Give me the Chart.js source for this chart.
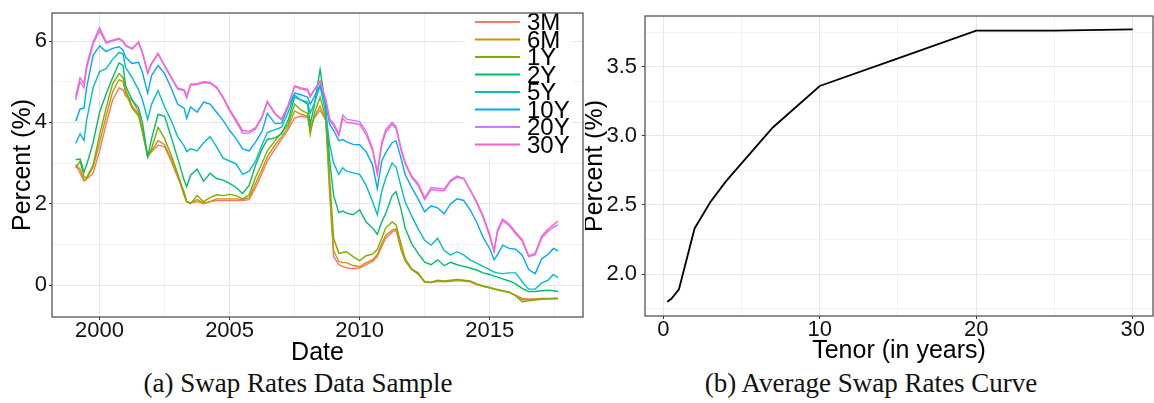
<!DOCTYPE html>
<html>
<head>
<meta charset="utf-8">
<script src="https://cdn.jsdelivr.net/npm/chart.js@4.4.0/dist/chart.umd.min.js"></script>
<style>
  html, body { margin: 0; padding: 0; background: #fff; }
  body { width: 1154px; height: 403px; position: relative; overflow: hidden; }
  canvas { position: absolute; top: 0; }
  #ratesChart { left: 0; }
  #curveChart { left: 585px; }
  .caption {
    position: absolute; top: 370px;
    font-family: "Liberation Serif", "Times New Roman", serif;
    font-size: 27px; line-height: 27px; color: #111;
    text-align: center; white-space: nowrap;
  }
  #capA { left: 0; width: 596px; }
  #capB { left: 590px; width: 562px; }
</style>
</head>
<body>
<canvas id="ratesChart" width="585" height="368"></canvas>
<canvas id="curveChart" width="569" height="368"></canvas>
<div class="caption" id="capA">(a) Swap Rates Data Sample</div>
<div class="caption" id="capB">(b) Average Swap Rates Curve</div>
<script>
// dates as decimal years
const dates = [
  1999.08, 1999.25, 1999.4, 1999.5, 1999.75, 2000.0, 2000.25, 2000.5, 2000.75, 2000.9,
  2001.0, 2001.25, 2001.5, 2001.65, 2001.85, 2002.0, 2002.25, 2002.5, 2002.75, 2003.0,
  2003.25, 2003.35, 2003.5, 2003.75, 2004.0, 2004.25, 2004.5, 2004.75, 2005.0, 2005.25,
  2005.5, 2005.75, 2006.0, 2006.25, 2006.45, 2006.75, 2007.0, 2007.25, 2007.5, 2007.75,
  2008.0, 2008.1, 2008.25, 2008.48, 2008.7, 2008.85, 2009.0, 2009.2, 2009.35, 2009.5,
  2009.75, 2010.0, 2010.25, 2010.5, 2010.68, 2010.85, 2011.0, 2011.25, 2011.4, 2011.6,
  2011.75, 2012.0, 2012.25, 2012.5, 2012.75, 2013.0, 2013.25, 2013.5, 2013.75, 2014.0,
  2014.25, 2014.5, 2014.75, 2015.0, 2015.17, 2015.3, 2015.5, 2015.75, 2016.0, 2016.25,
  2016.5, 2016.75, 2017.0, 2017.25, 2017.45, 2017.63
];

const r3M = [
  2.96, 2.75, 2.56, 2.60, 2.75, 3.30, 3.95, 4.55, 4.85, 4.80,
  4.65, 4.55, 4.25, 3.80, 3.16, 3.28, 3.44, 3.40, 3.05, 2.65,
  2.30, 2.05, 2.02, 2.05, 2.00, 2.05, 2.08, 2.08, 2.08, 2.08,
  2.08, 2.10, 2.40, 2.75, 3.05, 3.35, 3.58, 3.82, 4.11, 4.15,
  4.12, 3.85, 4.10, 4.30, 4.05, 2.20, 0.70, 0.50, 0.46, 0.42,
  0.40, 0.42, 0.50, 0.58, 0.70, 0.95, 1.15, 1.30, 1.35, 0.85,
  0.60, 0.38, 0.27, 0.08, 0.06, 0.09, 0.08, 0.09, 0.11, 0.10,
  0.08, 0.01, -0.03, -0.07, -0.10, -0.12, -0.15, -0.18, -0.25, -0.33,
  -0.34, -0.34, -0.33, -0.33, -0.33, -0.33
];
const r6M = [
  2.95, 2.85, 2.58, 2.62, 2.90, 3.50, 4.15, 4.75, 5.05, 5.00,
  4.72, 4.35, 4.15, 3.75, 3.16, 3.30, 3.55, 3.45, 3.10, 2.70,
  2.20, 2.05, 2.02, 2.10, 2.02, 2.05, 2.12, 2.12, 2.12, 2.12,
  2.10, 2.15, 2.50, 2.85, 3.15, 3.45, 3.65, 3.88, 4.28, 4.20,
  4.15, 3.80, 4.12, 4.40, 4.05, 2.40, 0.85, 0.58, 0.55, 0.55,
  0.48, 0.45, 0.55, 0.62, 0.75, 1.02, 1.22, 1.35, 1.38, 0.88,
  0.60, 0.38, 0.28, 0.07, 0.06, 0.10, 0.09, 0.10, 0.12, 0.11,
  0.09, 0.02, -0.03, -0.07, -0.10, -0.12, -0.15, -0.18, -0.26, -0.36,
  -0.36, -0.35, -0.34, -0.34, -0.33, -0.33
];
const r1Y = [
  2.88, 3.05, 2.66, 2.64, 2.95, 3.70, 4.35, 4.95, 5.20, 5.10,
  4.80, 4.40, 4.20, 3.80, 3.16, 3.36, 3.88, 3.60, 3.20, 2.75,
  2.25, 2.05, 2.00, 2.20, 2.05, 2.15, 2.22, 2.20, 2.23, 2.20,
  2.12, 2.22, 2.65, 3.00, 3.30, 3.55, 3.75, 3.95, 4.45, 4.30,
  4.22, 3.70, 4.20, 4.62, 4.10, 2.60, 1.15, 0.78, 0.80, 0.82,
  0.70, 0.60, 0.72, 0.76, 0.88, 1.15, 1.40, 1.55, 1.48, 1.00,
  0.65, 0.40, 0.30, 0.08, 0.07, 0.12, 0.10, 0.12, 0.14, 0.12,
  0.10, 0.03, -0.02, -0.06, -0.09, -0.11, -0.14, -0.17, -0.27, -0.41,
  -0.39, -0.37, -0.35, -0.34, -0.33, -0.33
];
const r2Y = [
  3.08, 3.10, 2.78, 2.95, 3.50, 4.25, 4.70, 5.10, 5.46, 5.40,
  4.90, 4.55, 4.35, 3.99, 3.16, 3.60, 4.20, 4.15, 3.65, 3.12,
  2.58, 2.42, 2.70, 2.85, 2.55, 2.75, 2.62, 2.58, 2.50, 2.40,
  2.25, 2.45, 2.95, 3.35, 3.58, 3.62, 3.72, 4.05, 4.62, 4.55,
  4.45, 3.95, 4.40, 5.30, 4.35, 3.05, 2.20, 1.78, 1.82, 1.77,
  1.73, 1.85, 1.55, 1.40, 1.25, 1.55, 1.75, 2.20, 2.30, 1.85,
  1.40, 1.02, 0.78, 0.56, 0.50, 0.62, 0.48, 0.56, 0.50, 0.46,
  0.42, 0.37, 0.30, 0.26, 0.22, 0.20, 0.15, 0.10, 0.03, -0.08,
  -0.16, -0.16, -0.14, -0.13, -0.14, -0.16
];
const r5Y = [
  3.48, 3.72, 3.55, 4.05, 4.85, 5.25, 5.32, 5.55, 5.72, 5.68,
  5.35, 5.10, 4.80, 4.55, 4.07, 4.45, 4.78, 4.38, 4.05, 3.65,
  3.42, 3.28, 3.35, 3.30, 3.50, 3.65, 3.40, 3.12, 3.05, 2.98,
  2.72, 2.80, 3.05, 3.45, 3.75, 3.82, 3.88, 4.25, 4.67, 4.55,
  4.50, 4.23, 4.45, 4.90, 4.20, 3.45, 3.00, 2.72, 2.88, 2.80,
  2.76, 2.72, 2.45, 2.05, 1.73, 2.30, 2.62, 3.00, 2.90, 2.40,
  2.05, 1.70, 1.38, 1.10, 0.98, 1.15, 0.85, 0.74, 0.82, 0.74,
  0.62, 0.54, 0.46, 0.38, 0.32, 0.30, 0.28, 0.30, 0.30, 0.08,
  -0.10, -0.10, 0.05, 0.12, 0.26, 0.18
];
const r10Y = [
  4.03, 4.33, 4.35, 4.85, 5.65, 5.88, 5.74, 5.82, 5.86, 5.78,
  5.60, 5.45, 5.48, 5.22, 4.72, 5.15, 5.40, 5.20, 4.85, 4.45,
  4.35, 4.10, 4.38, 4.25, 4.50, 4.45, 4.25, 4.05, 3.80, 3.60,
  3.35, 3.30, 3.52, 3.78, 4.22, 3.97, 3.98, 4.38, 4.72, 4.68,
  4.62, 4.45, 4.62, 4.92, 4.45, 3.95, 3.80, 3.55, 3.58, 3.52,
  3.46, 3.45, 3.28, 2.95, 2.37, 3.05, 3.25, 3.50, 3.55, 3.10,
  2.72, 2.40, 2.12, 1.80, 1.95, 1.90, 1.75, 2.00, 2.12, 2.08,
  1.85, 1.55, 1.17, 0.90, 0.62, 0.74, 0.98, 0.90, 0.88, 0.74,
  0.38, 0.28, 0.64, 0.76, 0.90, 0.84
];
const r20Y = [
  4.55, 5.00, 4.85, 5.32, 5.92, 6.25, 5.95, 6.00, 6.05, 5.98,
  5.88, 5.80, 5.96, 5.70, 5.20, 5.44, 5.68, 5.38, 5.10, 4.82,
  4.78, 4.60, 4.92, 4.93, 4.98, 4.96, 4.85, 4.60, 4.28, 4.02,
  3.74, 3.73, 3.84, 4.12, 4.50, 4.20, 4.06, 4.40, 4.88, 4.82,
  4.78, 4.62, 4.78, 5.00, 4.55, 4.08, 3.98, 3.72, 4.18, 4.08,
  4.05, 4.02, 3.78, 3.36, 2.78, 3.50, 3.82, 4.00, 3.90, 3.35,
  3.02, 2.68, 2.50, 2.15, 2.40, 2.38, 2.36, 2.58, 2.68, 2.62,
  2.33, 2.02, 1.66, 1.20, 0.82, 1.30, 1.58, 1.46, 1.26, 1.08,
  0.70, 0.74, 1.15, 1.32, 1.42, 1.48
];
const r30Y = [
  4.63, 5.10, 4.95, 5.40, 5.98, 6.33, 5.98, 6.02, 6.07, 6.00,
  5.90, 5.82, 5.98, 5.72, 5.22, 5.46, 5.70, 5.40, 5.12, 4.85,
  4.80, 4.63, 4.94, 4.95, 5.00, 4.98, 4.87, 4.62, 4.32, 4.07,
  3.80, 3.78, 3.87, 4.15, 4.52, 4.22, 4.08, 4.42, 4.90, 4.85,
  4.82, 4.65, 4.80, 5.02, 4.55, 4.05, 3.92, 3.67, 4.10, 4.00,
  3.98, 3.95, 3.70, 3.30, 2.72, 3.45, 3.75, 3.95, 3.85, 3.30,
  2.98, 2.65, 2.45, 2.10, 2.35, 2.33, 2.32, 2.55, 2.65, 2.62,
  2.35, 2.05, 1.70, 1.25, 0.84, 1.35, 1.62, 1.50, 1.30, 1.12,
  0.72, 0.78, 1.20, 1.38, 1.48, 1.57
];

const seriesNames = ['3M', '6M', '1Y', '2Y', '5Y', '10Y', '20Y', '30Y'];
const seriesValues = [r3M, r6M, r1Y, r2Y, r5Y, r10Y, r20Y, r30Y];
const seriesColors = ['#F8766D', '#CD9600', '#7CAE00', '#00BE67', '#00BFC4', '#00A9FF', '#C77CFF', '#FF61CC'];

const dateTicks = [2000, 2005, 2010, 2015];
const dateGrid = [2000, 2002.5, 2005, 2007.5, 2010, 2012.5, 2015, 2017.5];
const rateTicks = [0, 2, 4, 6];
const rateGrid = [0, 1, 2, 3, 4, 5, 6];

// average curve by tenor
const tenorYears = [0.25, 0.5, 1, 2, 3, 4, 5, 7, 10, 15, 20, 25, 30];
const avgRates = [1.80, 1.82, 1.89, 2.33, 2.52, 2.67, 2.80, 3.06, 3.36, 3.56, 3.76, 3.76, 3.77];
const tenorTicks = [0, 10, 20, 30];
const tenorGrid = [0, 5, 10, 15, 20, 25, 30];
const avgTicks = [2.0, 2.5, 3.0, 3.5];
const avgGrid = [1.75, 2.0, 2.25, 2.5, 2.75, 3.0, 3.25, 3.5, 3.75];

const sans = '"Liberation Sans", Arial, sans-serif';
const tickFont = { family: sans, size: 22, lineHeight: 1 };

// ggplot-like axis: major + minor grid lines, labels only on the majors
function makeAxis(grid, major, o) {
  return {
    type: 'linear',
    min: o.min,
    max: o.max,
    afterBuildTicks: axis => { axis.ticks = grid.map(v => ({ value: v })); },
    afterFit: o.fit,
    ticks: {
      autoSkip: false,
      maxRotation: 0,
      font: tickFont,
      color: '#111',
      padding: o.pad,
      callback: v => major.includes(v) ? o.fmt(v) : ''
    },
    grid: {
      color: c => (c.tick && major.includes(c.tick.value)) ? '#e6e6e6' : '#f2f2f2',
      tickColor: c => (c.tick && major.includes(c.tick.value)) ? '#333' : 'rgba(0,0,0,0)',
      tickLength: 3,
      lineWidth: 1
    },
    border: { display: false },
    title: {
      display: true,
      text: o.title,
      color: '#000',
      font: { family: sans, size: 25, lineHeight: o.titleLH || 1.2 },
      padding: o.titlePad
    }
  };
}

// panel border drawn on top, like theme_bw
const panelBorder = {
  id: 'panelBorder',
  afterDraw(chart) {
    const { ctx, chartArea: a } = chart;
    ctx.save();
    ctx.strokeStyle = '#555';
    ctx.lineWidth = 1.3;
    ctx.strokeRect(a.left, a.top, a.right - a.left, a.bottom - a.top);
    ctx.restore();
  }
};

// legend inside the plot, top right
const insideLegend = {
  id: 'insideLegend',
  afterDatasetsDraw(chart) {
    const ctx = chart.ctx;
    ctx.save();
    ctx.fillStyle = '#fff';
    ctx.fillRect(465, 5, 108, 152);
    ctx.font = '24px ' + sans;
    ctx.textBaseline = 'middle';
    chart.data.datasets.forEach((ds, i) => {
      const y = 22 + i * 17.5;
      ctx.strokeStyle = ds.borderColor;
      ctx.lineWidth = 2;
      ctx.beginPath();
      ctx.moveTo(475, y);
      ctx.lineTo(520, y);
      ctx.stroke();
      ctx.fillStyle = '#000';
      ctx.fillText(ds.label, 527, y + 1.5);
    });
    ctx.restore();
  }
};

new Chart(document.getElementById('ratesChart'), {
  type: 'line',
  data: {
    datasets: seriesNames.map((name, i) => ({
      label: name,
      data: dates.map((d, j) => ({ x: d, y: seriesValues[i][j] })),
      borderColor: seriesColors[i],
      borderWidth: 1.4,
      pointRadius: 0,
      tension: 0,
      fill: false,
      order: seriesNames.length - i
    }))
  },
  options: {
    responsive: false,
    animation: false,
    layout: { padding: { top: 3, right: 2, left: 0, bottom: 0 } },
    plugins: { legend: { display: false }, tooltip: { enabled: false } },
    scales: {
      x: makeAxis(dateGrid, dateTicks, {
        min: 1998.17, max: 2018.59, pad: 0, fmt: v => String(v),
        fit: s => { s.height = 51; },
        title: 'Date', titlePad: { top: 0, bottom: 0 }
      }),
      y: makeAxis(rateGrid, rateTicks, {
        min: -0.786, max: 6.69, pad: 2, fmt: v => String(v),
        fit: s => { s.width = 52; },
        title: 'Percent (%)', titlePad: { top: 8, bottom: 0 }
      })
    }
  },
  plugins: [insideLegend, panelBorder]
});

new Chart(document.getElementById('curveChart'), {
  type: 'line',
  data: {
    datasets: [{
      label: 'Average',
      data: tenorYears.map((t, i) => ({ x: t, y: avgRates[i] })),
      borderColor: '#000',
      borderWidth: 1.8,
      pointRadius: 0,
      tension: 0,
      fill: false
    }]
  },
  options: {
    responsive: false,
    animation: false,
    layout: { padding: { top: 3, right: 1, left: 0, bottom: 0 } },
    plugins: { legend: { display: false }, tooltip: { enabled: false } },
    scales: {
      x: makeAxis(tenorGrid, tenorTicks, {
        min: -1.17, max: 31.3, pad: 0, fmt: v => String(v),
        fit: s => { s.height = 52; },
        title: 'Tenor (in years)', titlePad: { top: 0, bottom: 2 }
      }),
      y: makeAxis(avgGrid, avgTicks, {
        min: 1.697, max: 3.866, pad: 5, fmt: v => v.toFixed(1),
        fit: s => { s.width = 60; },
        title: 'Percent (%)', titlePad: { top: 0, bottom: 0 }, titleLH: 0.8
      })
    }
  },
  plugins: [panelBorder]
});
</script>
</body>
</html>
